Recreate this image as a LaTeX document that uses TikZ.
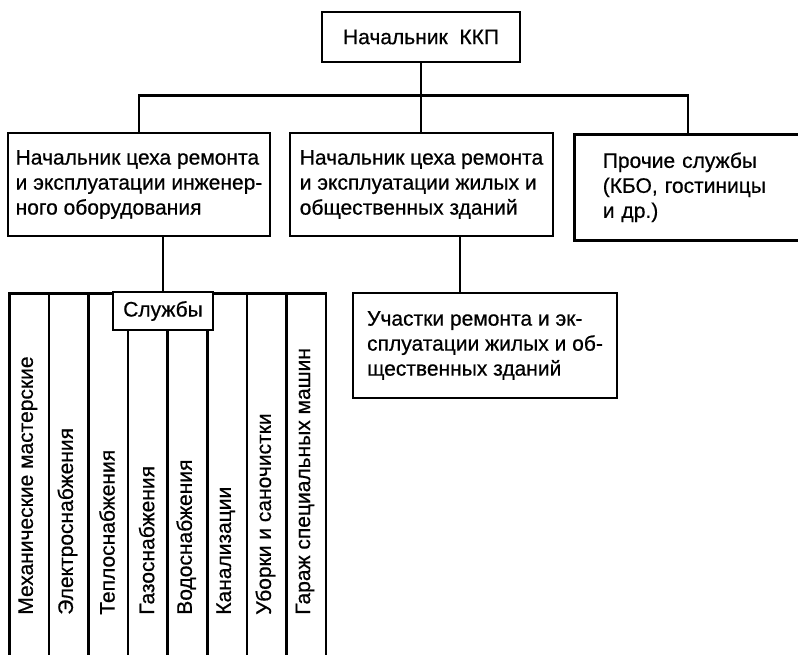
\documentclass[tikz,border=0pt]{standalone}
\usepackage{fontspec}
\setmainfont{Liberation Sans}[FakeBold=0.6]
\usepackage{tikz}
\tikzset{every picture/.style={line width=2.6pt},
  box/.style={draw,inner sep=0pt,align=left,font=\fontsize{21}{25}\selectfont},
  colbox/.style={draw,inner sep=0pt,minimum width=39.6,minimum height=370,anchor=north west},
  coltext/.style={rotate=90,anchor=west,inner sep=0pt,font=\fontsize{21}{25}\selectfont}}

\begin{document}
\begin{tikzpicture}[x=1pt,y=-1pt]
\useasboundingbox (0,0) rectangle (798,654);
\clip (0,0) rectangle (798,654);

\node (chief) at (421,37) [box,minimum width=198,minimum height=50] {Начальник\ \ ККП};
\node (ceh1) at (139,184.5) [box,minimum width=262,minimum height=103] {Начальник цеха ремонта\\и эксплуатации инженер-\\ного оборудования};
\node (ceh2) at (421.5,184.5) [box,minimum width=263,minimum height=103] {Начальник цеха ремонта\\и эксплуатации жилых и\\общественных зданий};
\node (other) at (573,133) [box,anchor=north west,text width=170,inner xsep=28.5,minimum height=106] {Прочие службы\\(КБО, гостиницы\\и др.)};
\node (uch) at (485,345.5) [box,minimum width=264,minimum height=105] {Участки ремонта и эк-\\сплуатации жилых и об-\\щественных зданий};

% columns of services
\foreach \i/\t in {1/Механические мастерские,2/Электроснабжения,3/Теплоснабжения,4/Газоснабжения,5/Водоснабжения,6/Канализации,7/Уборки и саночистки,8/Гараж специальных машин}
{
  \node (col\i) at ({8+39.6*(\i-1)},292) [colbox] {};
  \node (t\i) at ({27.8+39.6*(\i-1)},616) [coltext] {\t};
}
\node (sl) at (163,311) [box,fill=white,minimum width=100,minimum height=38] {Службы};

\draw[-] (chief.south) -- (chief.south |- ceh2.north);
\draw[-] (ceh1.north) -- ++(0,-36) -| (other.north);
\draw[-] (ceh1.south -| sl.north) -- (sl.north);
\draw[-] ([xshift=-25]uch.north) -- ([xshift=-25]uch.north |- ceh2.south);

\end{tikzpicture}
\end{document}
